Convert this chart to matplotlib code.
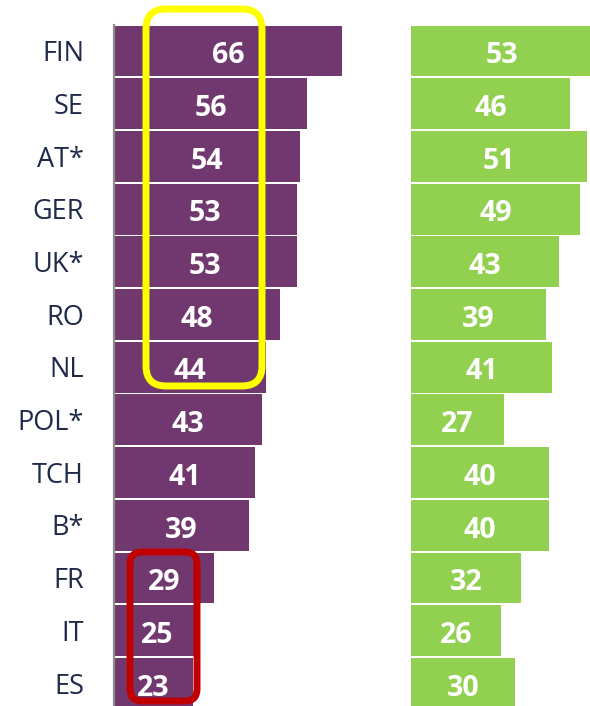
import matplotlib.pyplot as plt
from matplotlib.patches import FancyBboxPatch

countries = ["FIN", "SE", "AT*", "GER", "UK*", "RO", "NL", "POL*", "TCH", "B*", "FR", "IT", "ES"]
left_values = [66, 56, 54, 53, 53, 48, 44, 43, 41, 39, 29, 25, 23]
right_values = [53, 46, 51, 49, 43, 39, 41, 27, 40, 40, 32, 26, 30]

purple = "#70386F"
green = "#92D050"
label_color = "#1F2A4A"

W, H = 590, 706
px = 3.45      # pixels per unit
pitch = 52.7   # pixels per row
top_center = 51

fig = plt.figure(figsize=(W / 100, H / 100), dpi=100)

y_top = -top_center / pitch
y_bot = (H - top_center) / pitch
rows = list(range(len(countries)))


def panel(x0, width, values, color):
    ax = fig.add_axes([x0 / W, 0, width / W, 1])
    ax.barh(rows, values, height=0.965, color=color, clip_on=True)
    ax.set_xlim(0, width / px)
    ax.set_ylim(y_bot, y_top)
    for s in ax.spines.values():
        s.set_visible(False)
    ax.set_xticks([])
    ax.set_yticks([])
    for i, v in enumerate(values):
        ax.text(v / 2, i + 0.09, str(v), ha="center", va="center",
                color="white", fontsize=20.5, fontweight="bold",
                family="Open Sans")
    return ax


ax1 = panel(114, 270, left_values, purple)
ax1.plot([0, 0], [-0.5, y_bot], color="#8C8C8C", lw=1.6, clip_on=False)
for i, c in enumerate(countries):
    ax1.text(-30 / px, i + 0.06, c, ha="right", va="center", color=label_color,
             fontsize=19.5, family="Open Sans")

ax2 = panel(411, 179, right_values, green)

# highlight boxes, drawn in pixel space
ov = fig.add_axes([0, 0, 1, 1], facecolor="none")
ov.set_xlim(0, W)
ov.set_ylim(H, 0)
ov.axis("off")
ov.add_patch(FancyBboxPatch((146 + 20, 9 + 20), 116 - 40, 377 - 40,
                            boxstyle="round,pad=20", fill=False,
                            edgecolor="#FFFF00", lw=5))
ov.add_patch(FancyBboxPatch((130 + 12, 552 + 12), 67 - 24, 149 - 24,
                            boxstyle="round,pad=12", fill=False,
                            edgecolor="#C00000", lw=5))

plt.savefig("out.png", dpi=100)
plt.close()
